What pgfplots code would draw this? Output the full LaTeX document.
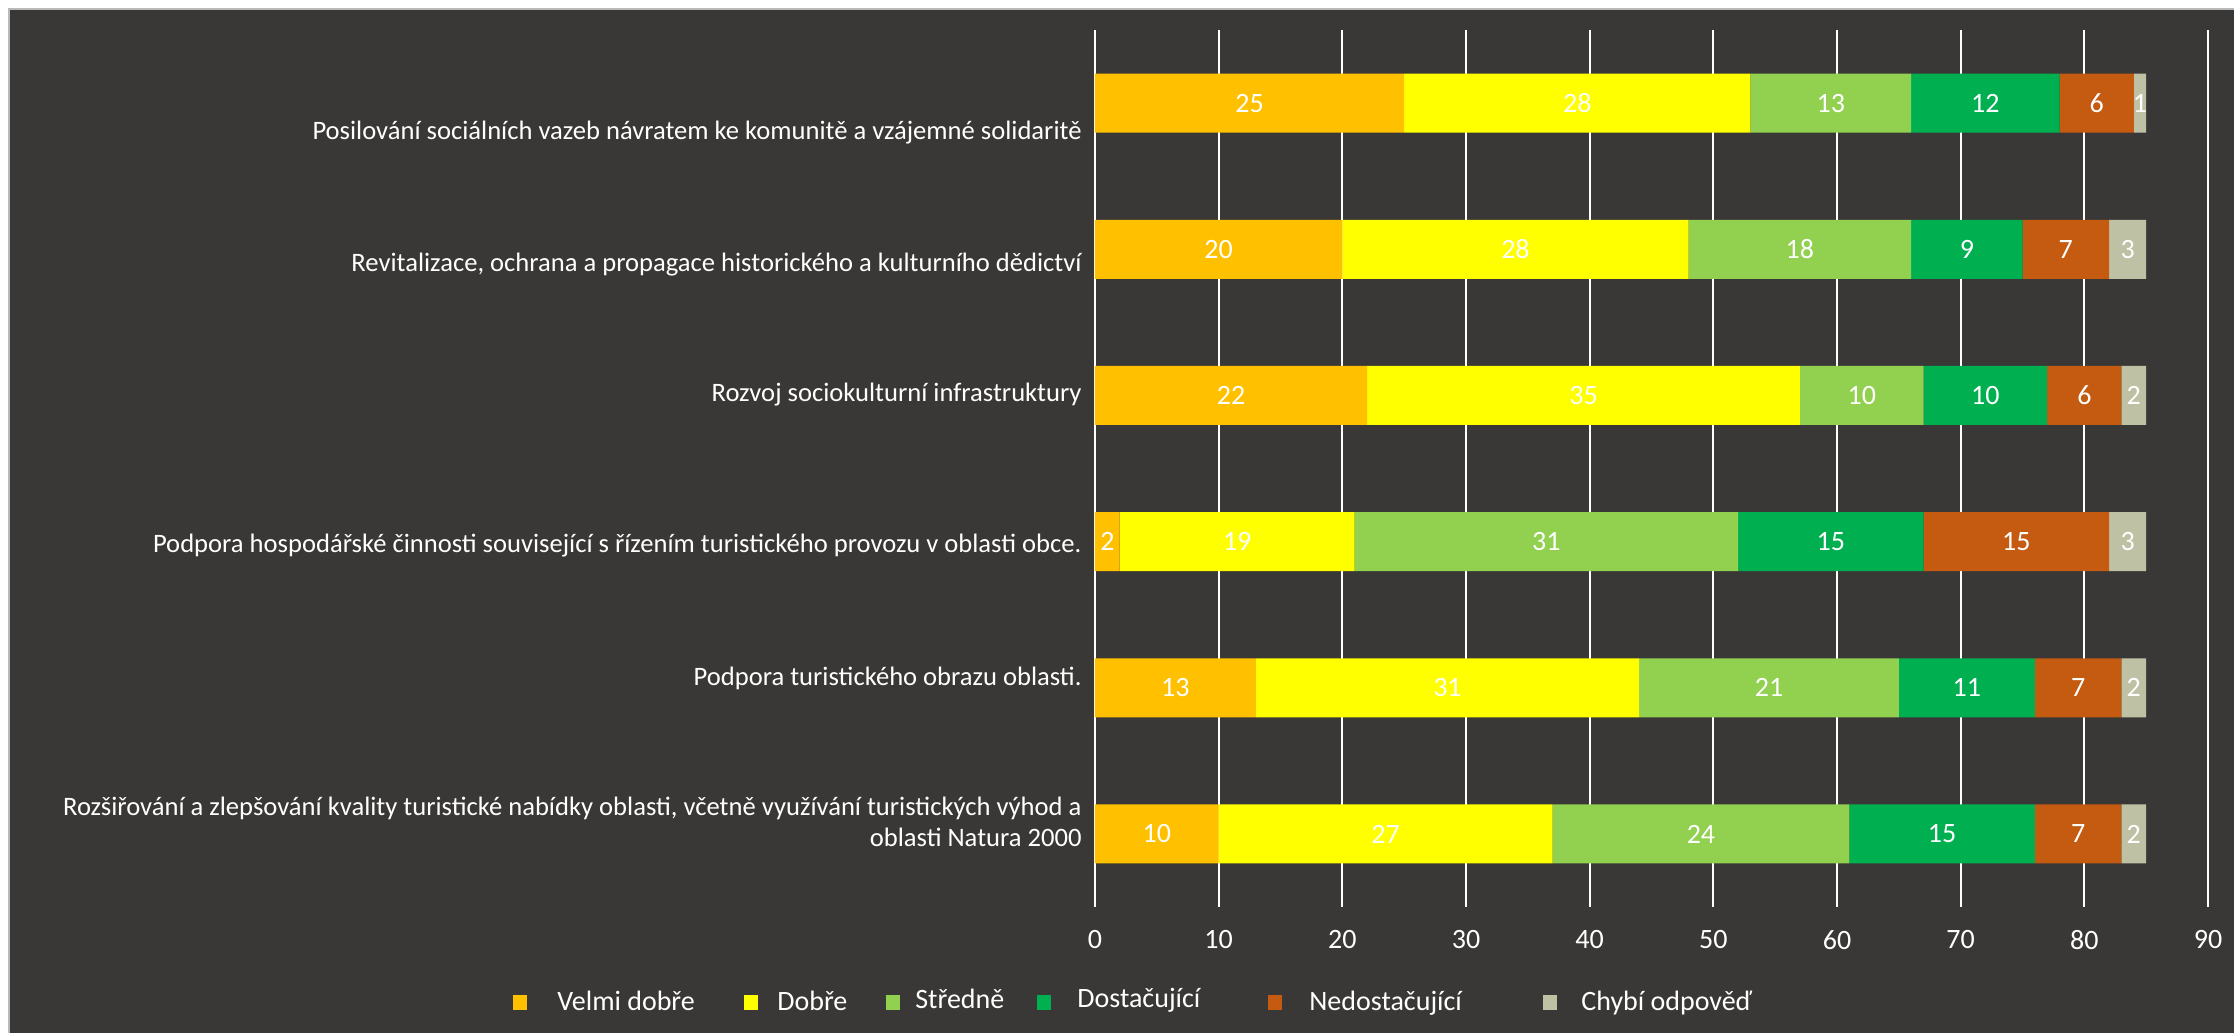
\documentclass[border=0pt]{standalone}
\usepackage{fontspec}
\setmainfont{Carlito}
\usepackage{pgfplots}
\usepackage{pgfplotstable}
\pgfplotsset{compat=1.18}

\definecolor{bg}{HTML}{3A3836}
\definecolor{velmi}{HTML}{FFC000}
\definecolor{dobre}{HTML}{FFFF00}
\definecolor{stredne}{HTML}{92D050}
\definecolor{dostac}{HTML}{00B050}
\definecolor{nedostac}{HTML}{C55A11}
\definecolor{chybi}{HTML}{BFC1A5}

% rows top to bottom, values per rating
\pgfplotstableread{
row a  b  c  d  e  f
0   25 28 13 12 6  1
1   20 28 18 9  7  3
2   22 35 10 10 6  2
3   2  19 31 15 15 3
4   13 31 21 11 7  2
5   10 27 24 15 7  2
}\hodnoceni

\pgfplotsset{
  frame/.style={scale only axis, width=556.5pt, height=438.5pt,
    at={(547.5pt,63pt)}, anchor=south west,
    xmin=0, xmax=90, ymin=-0.5, ymax=5.5, enlargelimits=false,
    y dir=reverse, clip=false},
  segnum/.style={draw=none, mark=none, forget plot,
    nodes near coords={\pgfplotspointmeta},
    point meta=explicit symbolic,
    every node near coord/.style={anchor=center, text=white,
      font=\fontsize{14}{16}\selectfont}},
}
\tikzset{
  catlabel/.style={anchor=east, xshift=-6.5pt, text=white, inner sep=0pt,
    align=right, font=\fontsize{13.3}{15.5}\selectfont},
}
% legend text cell: gap after the square, then text in a box up to the next square
\newcommand{\lent}[4][0pt]{\makebox[#2][l]{\hspace*{#3}\raisebox{#1}{#4}}}

\begin{document}
\begin{tikzpicture}
\useasboundingbox (0,0) rectangle (1117pt,516.5pt);
\fill[white] (0,0) rectangle (1117pt,516.5pt);
\filldraw[fill=bg, draw=gray!55, line width=0.7pt] (4.5pt,-2pt) rectangle (1120pt,512pt);

\begin{axis}[frame,
    xbar stacked, bar width=29.5pt,
    xtick={0,10,...,90}, ytick=\empty,
    xmajorgrids, grid style={white, line width=0.85pt},
    axis line style={draw=none}, major tick length=0pt,
    /pgf/number format/assume math mode=true,
    xticklabel style={text=white, font=\fontsize{14}{16}\selectfont,
      anchor=center, yshift=-16.5pt},
    legend columns=6,
    legend cell align=left,
    legend image code/.code={\fill[#1] (0pt,-3.75pt) rectangle (7pt,3.75pt);},
    legend style={at={(axis description cs:0,0)}, anchor=west,
      xshift=-291pt, yshift=-47.5pt, draw=none, fill=none, inner sep=0pt,
      column sep=0pt, nodes={inner sep=0pt},
      text=white, font=\fontsize{14}{16}\selectfont},
  ]
\addplot[fill=velmi, draw=none] table[x=a, y=row]{\hodnoceni};
\addlegendentry{\lent{108.5pt}{15pt}{Velmi dobře}}
\addplot[fill=dobre, draw=none] table[x=b, y=row]{\hodnoceni};
\addlegendentry{\lent{64pt}{9.5pt}{Dobře}}
\addplot[fill=stredne, draw=none] table[x=c, y=row]{\hodnoceni};
\addlegendentry{\lent[2pt]{68.5pt}{7.5pt}{Středně}}
\addplot[fill=dostac, draw=none] table[x=d, y=row]{\hodnoceni};
\addlegendentry{\lent[2.5pt]{108.5pt}{13pt}{Dostačující}}
\addplot[fill=nedostac, draw=none] table[x=e, y=row]{\hodnoceni};
\addlegendentry{\lent{130.5pt}{13.5pt}{Nedostačující}}
\addplot[fill=chybi, draw=none] table[x=f, y=row]{\hodnoceni};
\addlegendentry{\lent{100pt}{12pt}{Chybí odpověď}}

\node[catlabel, yshift=-14.5pt] at (axis cs:0,0) {Posilování sociálních vazeb návratem ke komunitě a vzájemné solidaritě};
\node[catlabel, yshift=-7.5pt] at (axis cs:0,1) {Revitalizace, ochrana a propagace historického a kulturního dědictví};
\node[catlabel, yshift=0.5pt] at (axis cs:0,2) {Rozvoj sociokulturní infrastruktury};
\node[catlabel, yshift=-2pt] at (axis cs:0,3) {Podpora hospodářské činnosti související s řízením turistického provozu v oblasti obce.};
\node[catlabel, yshift=4.8pt] at (axis cs:0,4) {Podpora turistického obrazu oblasti.};
\node[catlabel, yshift=6pt] at (axis cs:0,5) {Rozšiřování a zlepšování kvality turistické nabídky oblasti, včetně využívání turistických výhod a\\ oblasti Natura 2000};
\end{axis}

% segment values, centred in each segment
\begin{axis}[frame, hide axis]
\addplot[segnum] table[x expr=\thisrow{a}/2, y=row, meta=a]{\hodnoceni};
\addplot[segnum] table[x expr=\thisrow{a}+\thisrow{b}/2, y=row, meta=b]{\hodnoceni};
\addplot[segnum] table[x expr=\thisrow{a}+\thisrow{b}+\thisrow{c}/2, y=row, meta=c]{\hodnoceni};
\addplot[segnum] table[x expr=\thisrow{a}+\thisrow{b}+\thisrow{c}+\thisrow{d}/2, y=row, meta=d]{\hodnoceni};
\addplot[segnum] table[x expr=\thisrow{a}+\thisrow{b}+\thisrow{c}+\thisrow{d}+\thisrow{e}/2, y=row, meta=e]{\hodnoceni};
\addplot[segnum] table[x expr=\thisrow{a}+\thisrow{b}+\thisrow{c}+\thisrow{d}+\thisrow{e}+\thisrow{f}/2, y=row, meta=f]{\hodnoceni};
\end{axis}
\end{tikzpicture}
\end{document}
